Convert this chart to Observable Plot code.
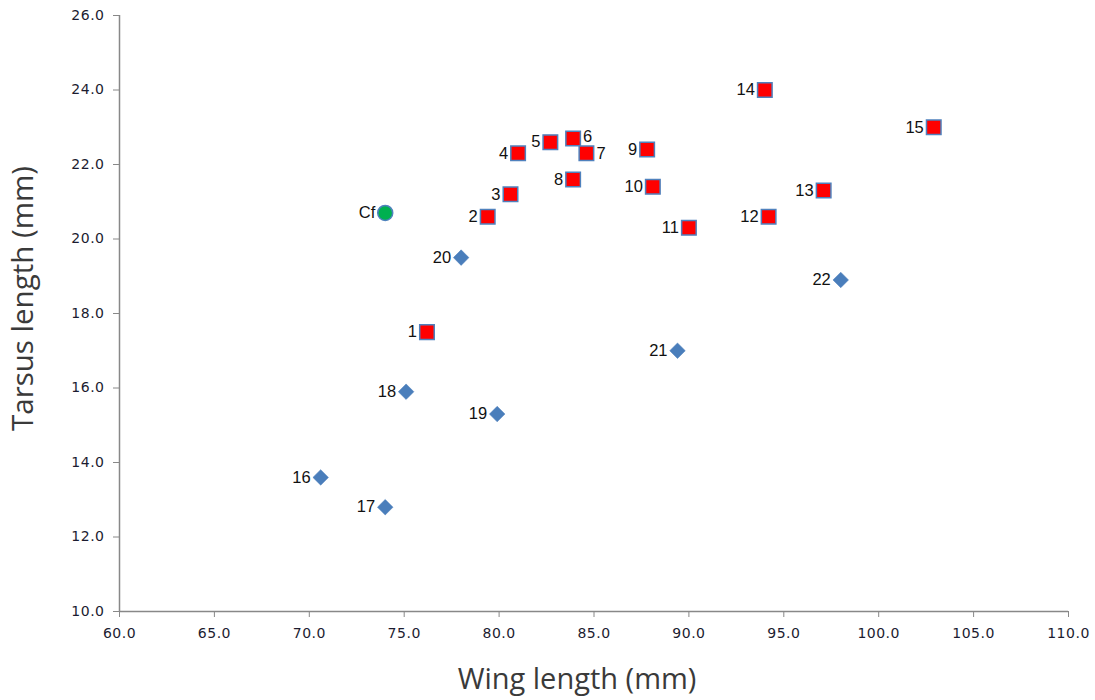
<!DOCTYPE html>
<html><head><meta charset="utf-8">
<script src="https://cdn.jsdelivr.net/npm/d3@7"></script>
<script src="https://cdn.jsdelivr.net/npm/@observablehq/plot@0.6"></script>
<style>
body{margin:0;background:#fff;}
#chart svg{display:block;background:#fff;}
</style></head>
<body><div id="chart"></div>
<script>
const groups = ["red","red","red","red","red","red","red","red","red","red","red","red","red","red","red","blue","blue","blue","blue","blue","blue","blue","green"];
const labels = ["1","2","3","4","5","6","7","8","9","10","11","12","13","14","15","16","17","18","19","20","21","22","Cf"];
const wing = [76.2,79.4,80.6,81.0,82.7,83.9,84.6,83.9,87.8,88.1,90.0,94.2,97.1,94.0,102.9,70.6,74.0,75.1,79.9,78.0,89.4,98.0,74.0];
const tarsus = [17.5,20.6,21.2,22.3,22.6,22.7,22.3,21.6,22.4,21.4,20.3,20.6,21.3,24.0,23.0,13.6,12.8,15.9,15.3,19.5,17.0,18.9,20.7];
const xTicks = [60,65,70,75,80,85,90,95,100,105,110];
const yTicks = [10,12,14,16,18,20,22,24,26];
const labelRight = ["6","7"];
const xTitle = ["Wing length (mm)"];
const yTitle = ["Tarsus length (mm)"];

const data = labels.map((l,i)=>({label:l, group:groups[i], x:wing[i], y:tarsus[i]}));
const red = data.filter(d=>d.group==="red");
const blue = data.filter(d=>d.group==="blue");
const green = data.filter(d=>d.group==="green");
const leftLab = data.filter(d=>!labelRight.includes(d.label));
const lab6 = data.filter(d=>d.label==="6");
const lab7 = data.filter(d=>d.label==="7");

const fmt = d3.format(".1f");
const labFont = "Liberation Sans, Arial, sans-serif";
const titleFont = "Open Sans, sans-serif";
const chart = Plot.plot({
  width:1095, height:700,
  marginLeft:119, marginRight:27, marginTop:15, marginBottom:89,
  style:{fontFamily:"DejaVu Sans, sans-serif", fontSize:"14px", color:"#1c1c30", background:"#fff", overflow:"visible"},
  x:{domain:[60,110]},
  y:{domain:[10,26]},
  marks:[
    Plot.axisX({ticks:xTicks, tickFormat:fmt, tickSize:6, tickPadding:11, stroke:"#888", fill:"#1c1c30", label:null}),
    Plot.axisY({ticks:yTicks, tickFormat:fmt, tickSize:6, tickPadding:9, stroke:"#888", fill:"#1c1c30", label:null}),
    Plot.ruleY([10], {stroke:"#888", strokeWidth:1.5}),
    Plot.ruleX([60], {stroke:"#888", strokeWidth:1.5}),
    Plot.text(xTitle, {frameAnchor:"bottom", textAnchor:"middle", dy:77, dx:-17, text:d=>d, fontSize:29, fontFamily:titleFont, fill:"#3a3a3a"}),
    Plot.text(yTitle, {frameAnchor:"left", textAnchor:"middle", dx:-96, dy:-15, rotate:-90, text:d=>d, fontSize:29.5, fontFamily:titleFont, fill:"#3a3a3a"}),
    Plot.dot(blue, {x:"x", y:"y", symbol:"square", rotate:45, r:6.2, fill:"#4a7ebb", stroke:"#4a7ebb", strokeWidth:0.5}),
    Plot.dot(red, {x:"x", y:"y", symbol:"square", r:8.2, fill:"#ff0000", stroke:"#4f81bd", strokeWidth:1.5}),
    Plot.dot(green, {x:"x", y:"y", r:7.5, fill:"#00b050", stroke:"#4f81bd", strokeWidth:1.5}),
    Plot.text(leftLab, {x:"x", y:"y", text:"label", textAnchor:"end", dx:-10, fontSize:16.5, fontFamily:labFont, fill:"#111"}),
    Plot.text(lab6, {x:"x", y:"y", text:"label", textAnchor:"start", dx:10, dy:-2, fontSize:16.5, fontFamily:labFont, fill:"#111"}),
    Plot.text(lab7, {x:"x", y:"y", text:"label", textAnchor:"start", dx:10, dy:0, fontSize:16.5, fontFamily:labFont, fill:"#111"})
  ]
});
chart.querySelectorAll("text").forEach(t => {
  if (/^\d+\.\d$/.test(t.textContent.trim())) {
    t.style.fontSize = "14px";
    t.style.letterSpacing = "0.5px";
    t.style.fontFamily = "DejaVu Sans, sans-serif";
  }
});
document.getElementById("chart").appendChild(chart);
</script></body></html>
